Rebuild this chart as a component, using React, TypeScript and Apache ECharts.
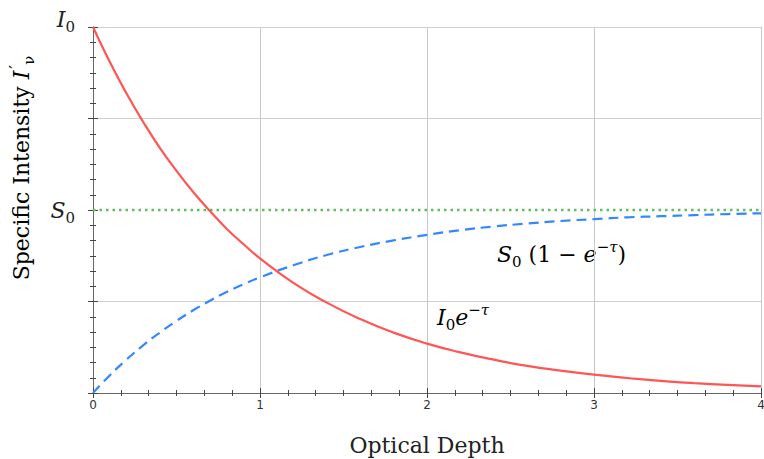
import React, { useEffect, useRef } from "react";
import * as echarts from "echarts";

// Optical depth samples (τ) and values
const tau = [0, 0.1, 0.2, 0.3, 0.4, 0.5, 0.6, 0.7, 0.8, 0.9, 1.0, 1.2, 1.4, 1.6, 1.8, 2.0, 2.2, 2.4, 2.6, 2.8, 3.0, 3.2, 3.4, 3.6, 3.8, 4.0];
// I0 e^{-τ}  (I0 = 1)
const attenuated = [1.0, 0.905, 0.819, 0.741, 0.67, 0.607, 0.549, 0.497, 0.449, 0.407, 0.368, 0.301, 0.247, 0.202, 0.165, 0.135, 0.111, 0.091, 0.074, 0.061, 0.05, 0.041, 0.033, 0.027, 0.022, 0.018];
// S0 (1 - e^{-τ})  (S0 = 0.5)
const emitted = [0, 0.048, 0.091, 0.13, 0.165, 0.197, 0.226, 0.252, 0.276, 0.297, 0.316, 0.349, 0.377, 0.399, 0.417, 0.432, 0.445, 0.455, 0.463, 0.47, 0.475, 0.48, 0.483, 0.486, 0.489, 0.491];
// Source function level
const sourceLevel = 0.5;
const sourceX = [0, 4];

const xTickLabels = ["0", "1", "2", "3", "4"];
const yTickLabels: Record<string, string> = { "1": "{v|I}{sub|0}\n{gap| }", "0.5": "{v|S}{sub|0}" };

const SERIF = "'DejaVu Serif', serif";

const richMath = {
  v: { fontFamily: SERIF, fontStyle: "italic", fontSize: 22, color: "#222", lineHeight: 30, verticalAlign: "middle" },
  n: { fontFamily: SERIF, fontSize: 22, color: "#222", lineHeight: 30, verticalAlign: "middle" },
  sub: { fontFamily: SERIF, fontSize: 15, color: "#222", verticalAlign: "bottom" },
  sup: { fontFamily: SERIF, fontStyle: "italic", fontSize: 15, color: "#222", verticalAlign: "top" },
  pr: { fontFamily: SERIF, fontSize: 17, color: "#222", verticalAlign: "top", padding: [0, 0, 0, 2] },
  gap: { fontSize: 4, lineHeight: 16 },
};

export default function App() {
  const ref = useRef<HTMLDivElement>(null);
  useEffect(() => {
    if (!ref.current) return;
    const chart = echarts.init(ref.current, null, { renderer: "svg" });
    const axisLine = { show: true, lineStyle: { color: "#666", width: 1 } };
    const xCommon = {
      type: "value" as const,
      min: 0,
      max: 4,
      interval: 1,
      axisLine,
      axisTick: { show: true, length: 5, lineStyle: { color: "#444" } },
      minorTick: { show: true, splitNumber: 6, length: 3, lineStyle: { color: "#444" } },
    };
    const yCommon = {
      type: "value" as const,
      min: 0,
      max: 1,
      interval: 0.25,
      axisLine,
      axisTick: { show: true, length: 5, lineStyle: { color: "#444" } },
      minorTick: { show: true, splitNumber: 6, length: 3, lineStyle: { color: "#444" } },
    };
    chart.setOption({
      animation: false,
      backgroundColor: "#fff",
      grid: { left: 93, right: 3, top: 27, bottom: 66, containLabel: false, outerBoundsMode: "none" },
      xAxis: [
        {
          ...xCommon,
          position: "bottom",
          name: "Optical Depth",
          nameLocation: "middle",
          nameGap: 41,
          nameTextStyle: { fontFamily: SERIF, fontSize: 22, color: "#222" },
          axisLabel: {
            show: true,
            margin: 6,
            fontSize: 12,
            fontFamily: "'DejaVu Sans', sans-serif",
            color: "#333",
            formatter: (v: number) => xTickLabels[Math.round(v)] ?? "",
          },
          splitLine: { show: true, lineStyle: { color: "#c8c8c8", width: 1 } },
        },
        {
          ...xCommon,
          position: "top",
          axisLabel: { show: false },
          splitLine: { show: false },
        },
      ],
      yAxis: [
        {
          ...yCommon,
          position: "left",
          axisLabel: {
            show: true,
            margin: 18,
            formatter: (v: number) => yTickLabels[String(v)] ?? "",
            rich: richMath,
          },
          splitLine: {
            show: true,
            lineStyle: { color: ["#d0d0d0", "#d0d0d0", "rgba(0,0,0,0)", "#d0d0d0", "#d0d0d0"], width: 1 },
          },
        },
        {
          ...yCommon,
          position: "right",
          axisLabel: { show: false },
          splitLine: { show: false },
        },
      ],
      series: [
        {
          type: "line",
          name: "source",
          data: sourceX.map((x) => [x, sourceLevel]),
          showSymbol: false,
          lineStyle: { color: "#5fbf5f", width: 2.5, type: [2.5, 4] },
          z: 3,
        },
        {
          type: "line",
          name: "emitted",
          data: tau.map((t, i) => [t, emitted[i]]),
          smooth: true,
          showSymbol: false,
          lineStyle: { color: "#3388ff", width: 2.2, type: [10, 6] },
          z: 4,
        },
        {
          type: "line",
          name: "attenuated",
          data: tau.map((t, i) => [t, attenuated[i]]),
          smooth: true,
          showSymbol: false,
          lineStyle: { color: "#ff5555", width: 2.2 },
          z: 5,
        },
      ],
      graphic: [
        {
          type: "text",
          x: 21,
          y: 168,
          rotation: Math.PI / 2,
          style: {
            text: "{n|Specific Intensity }{v|I}{pr|′}{sub|ν}",
            rich: richMath,
            align: "center",
            verticalAlign: "middle",
          },
        },
        {
          type: "text",
          x: 497,
          y: 254,
          style: {
            text: "{v|S}{sub|0}{n| (1 − }{v|e}{sup|−τ}{n|)}",
            rich: richMath,
            align: "left",
            verticalAlign: "middle",
          },
        },
        {
          type: "text",
          x: 437,
          y: 317,
          style: {
            text: "{v|I}{sub|0}{v|e}{sup|−τ}",
            rich: richMath,
            align: "left",
            verticalAlign: "middle",
          },
        },
      ],
    });
    return () => chart.dispose();
  }, []);
  return (
    <div
      ref={ref}
      style={{ position: "fixed", left: 0, top: 0, width: 764, height: 459 }}
    />
  );
}
